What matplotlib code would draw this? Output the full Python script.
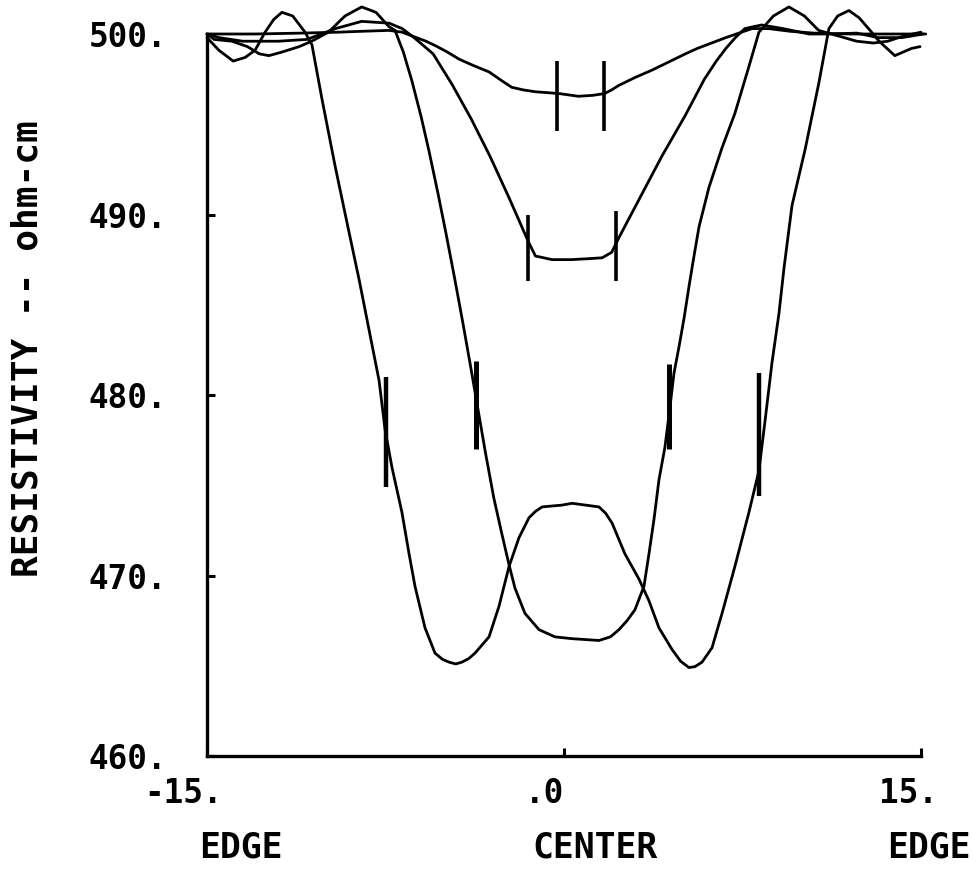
import matplotlib
matplotlib.use("Agg")
import matplotlib.pyplot as plt
from matplotlib.transforms import blended_transform_factory

# ---- data: distance from center vs resistivity (ohm-cm)
a_x = [-15, -13, -11, -9.5, -8.5, -7.35, -6.8, -6.3, -5.8, -5.4, -4.9, -4.4, -3.8, -3.15, -2.6,
       -2.2, -1.7, -1.2, -0.2, 0.6, 1.2, 1.7, 2.0, 2.3, 3.0, 3.7, 4.4, 5.1, 5.6, 6.2, 6.8, 7.35,
       7.9, 8.6, 9.5, 10.5, 12.0, 13.5, 15.2]
a_y = [500.0, 500.0, 500.05, 500.1, 500.15, 500.2, 500.1, 499.85, 499.6, 499.35, 499.0, 498.6,
       498.25, 497.9, 497.4, 497.05, 496.9, 496.8, 496.7, 496.55, 496.6, 496.7, 496.9, 497.15,
       497.6, 498.0, 498.45, 498.9, 499.2, 499.5, 499.8, 500.05, 500.3, 500.3, 500.15, 500.05,
       500.0, 500.0, 500.0]

b_x = [-15, -14.5, -13.5, -12.0, -10.8, -9.6, -8.5, -7.35, -6.8, -6.3, -5.5, -4.7, -3.9, -3.1,
       -2.3, -1.5, -1.2, -0.5, 0.3, 1.0, 1.6, 2.0, 2.3, 2.7, 3.3, 4.1, 5.1, 5.9, 6.4, 6.8, 7.2,
       7.6, 8.3, 9.2, 10.3, 11.3, 12.3, 13.2, 14.2, 15.1]
b_y = [500.0, 499.8, 499.6, 499.6, 499.7, 500.3, 500.7, 500.6, 500.3, 499.8, 498.9, 497.2, 495.3,
       493.2, 490.9, 488.5, 487.7, 487.5, 487.5, 487.55, 487.6, 487.9, 488.7, 489.7, 491.2, 493.2,
       495.5, 497.5, 498.5, 499.2, 499.8, 500.3, 500.5, 500.3, 500.0, 500.0, 500.05, 499.8, 499.8,
       500.0]

c_x = [-15, -14.7, -13.95, -13.3, -12.8, -12.4, -11.85, -11.13, -10.6, -9.9, -9.2, -8.5, -7.9,
       -7.35, -7.1, -6.75, -6.39, -6.0, -5.67, -5.3, -4.95, -4.6, -4.25, -3.9, -3.6, -3.3,
       -2.95, -2.61, -2.31, -2.06, -1.64, -1.05, -0.38, 0.34, 1.47, 1.95, 2.31, 2.65, 2.98, 3.36,
       3.57, 3.78, 3.99, 4.24, 4.45, 4.62, 4.85, 5.05, 5.25, 5.45, 5.67, 6.09, 6.64, 7.18, 7.77,
       8.19, 8.8, 9.45, 10.1, 10.7, 11.5, 12.3, 13.0, 13.6, 14.3, 15.0]
c_y = [500.0, 499.7, 499.6, 499.3, 498.9, 498.8, 499.0, 499.3, 499.6, 500.1, 501.0, 501.5, 501.2,
       500.4, 500.2, 499.0, 497.4, 495.4, 493.5, 491.2, 488.9, 486.5, 484.0, 481.4, 479.1, 476.8,
       474.3, 472.3, 470.6, 469.3, 467.9, 467.0, 466.6, 466.5, 466.4, 466.6, 467.0, 467.5, 468.1,
       469.4, 471.2, 473.1, 475.3, 477.1, 479.3, 481.2, 482.8, 484.3, 486.0, 487.6, 489.3, 491.5,
       493.7, 495.6, 498.2, 500.1, 501.0, 501.5, 501.0, 500.2, 499.9, 499.6, 499.5, 499.6, 499.9,
       500.1]

d_x = [-15, -14.5, -13.9, -13.4, -12.98, -12.56, -12.2, -11.85, -11.4, -10.88, -10.59, -10.17,
       -9.62, -9.03, -8.61, -8.19, -7.77, -7.52, -7.23, -6.81, -6.51, -6.26, -5.84, -5.42, -5.1,
       -4.83, -4.55, -4.29, -4.0, -3.74, -3.15, -2.73, -2.31, -1.89, -1.47, -1.2, -0.92, -0.08,
       0.34, 1.47, 1.75, 2.02, 2.56, 3.15, 3.57, 3.99, 4.54, 4.9, 5.25, 5.5, 5.80, 6.22, 6.64,
       7.18, 7.77, 8.19, 8.45, 8.74, 9.03, 9.25, 9.58, 10.13, 10.71, 11.13, 11.5, 11.97, 12.4,
       12.86, 13.24, 13.9, 14.6, 14.96]
d_y = [499.8, 499.1, 498.5, 498.7, 499.1, 500.1, 500.8, 501.2, 501.0, 500.1, 499.4, 496.4, 492.7,
       489.0, 486.4, 483.6, 480.8, 478.1, 476.0, 473.5, 471.2, 469.4, 467.1, 465.7, 465.35, 465.2,
       465.1, 465.2, 465.4, 465.7, 466.6, 468.3, 470.5, 472.1, 473.2, 473.55, 473.8, 473.9, 474.0,
       473.8, 473.45, 472.9, 471.2, 469.8, 468.6, 467.1, 465.9, 465.25, 464.9, 464.95, 465.2,
       466.0, 467.9, 470.5, 473.5, 475.8, 478.6, 481.8, 484.5, 487.1, 490.5, 493.6, 497.3, 500.3,
       501.0, 501.3, 500.9, 500.2, 499.6, 498.8, 499.2, 499.3]

curves = [(a_x, a_y), (b_x, b_y), (c_x, c_y), (d_x, d_y)]

# vertical marker bars on each profile
bar_x = [-0.3, 1.7, -1.5, 2.2, -3.7, 4.4, -7.5, 8.2]
bar_lo = [494.6, 494.6, 486.3, 486.3, 477.0, 477.0, 474.9, 474.4]
bar_hi = [498.5, 498.5, 490.0, 490.2, 481.9, 481.7, 481.0, 481.2]
bar_lw = [2.6, 2.6, 2.6, 2.6, 3.6, 3.6, 3.2, 3.2]

y_ticks = [460, 470, 480, 490, 500]
y_labels = ["460.", "470.", "480.", "490.", "500."]
x_ticks = [-15, 0, 15]
x_labels = ["-15.", ".0", "15."]
x_names = ["EDGE", "CENTER", "EDGE"]

MONO = "DejaVu Sans Mono"

fig = plt.figure(figsize=(9.77, 8.72), dpi=100)
ax = fig.add_axes([207 / 977, 1 - 756 / 872, 714 / 977, 722 / 872])

for xs, ys in curves:
    ax.plot(xs, ys, color="black", lw=2.0, clip_on=False, solid_capstyle="round",
            solid_joinstyle="round")

for x, lo, hi, lw in zip(bar_x, bar_lo, bar_hi, bar_lw):
    ax.vlines(x, lo, hi, color="black", lw=lw, clip_on=False)

ax.set_xlim(-15, 15)
ax.set_ylim(460, 500)

for s in ["top", "right"]:
    ax.spines[s].set_visible(False)
for s in ["left", "bottom"]:
    ax.spines[s].set_linewidth(2.4)

ax.set_yticks(y_ticks)
ax.set_yticklabels(y_labels, family=MONO, weight="bold", fontsize=23.5)
ax.tick_params(axis="y", direction="in", length=6, width=2.2, pad=29)

ax.set_xticks(x_ticks)
ax.set_xticklabels([])
ax.tick_params(axis="x", direction="in", length=6, width=2.2)

# x tick labels and the EDGE/CENTER names, anchored to the ticks
trans = blended_transform_factory(ax.transData, ax.transAxes)
lab_dx = [16, 0, 17]
name_dx = [34, 31, 8]
for t, lab, name, dx1, dx2 in zip(x_ticks, x_labels, x_names, lab_dx, name_dx):
    ax.annotate(lab, xy=(t, 0), xycoords=trans, xytext=(dx1, -37),
                textcoords="offset pixels", ha="right", va="center",
                family=MONO, weight="bold", fontsize=23.5, annotation_clip=False)
    ax.annotate(name, xy=(t, 0), xycoords=trans, xytext=(dx2, -91),
                textcoords="offset pixels", ha="center", va="center",
                family=MONO, weight="bold", fontsize=25, annotation_clip=False)

fig.text(28 / 977, 1 - 349 / 872, "RESISTIVITY -- ohm-cm", rotation=90,
         ha="center", va="center", family=MONO, weight="bold", fontsize=26)

fig.savefig("out.png", dpi=100)
